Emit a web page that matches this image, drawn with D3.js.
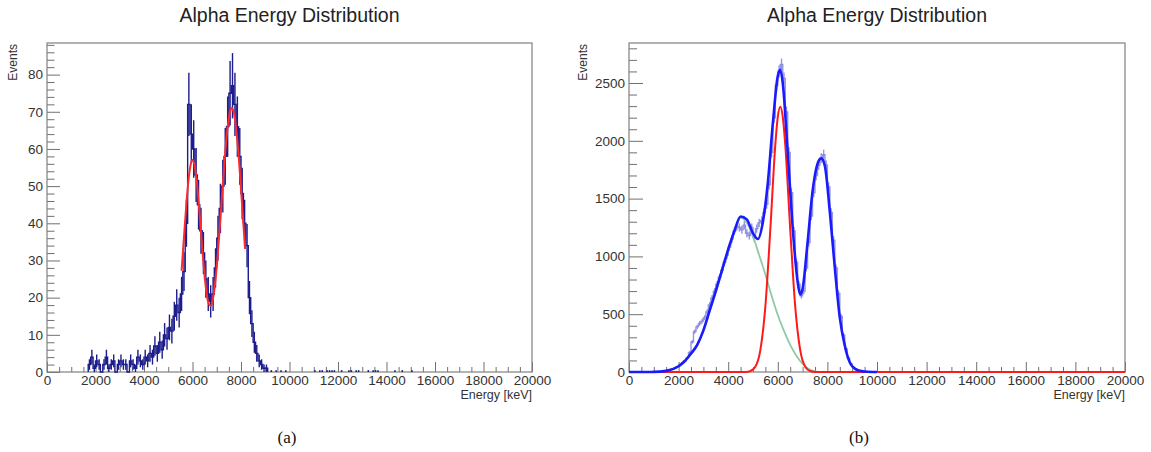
<!DOCTYPE html>
<html>
<head>
<meta charset="utf-8">
<script src="https://cdn.jsdelivr.net/npm/d3@7"></script>
<style>
  body { margin: 0; background: #fff; }
  text { font-family: "Liberation Sans", Arial, Helvetica, sans-serif; fill: #333; }
</style>
</head>
<body>
<div id="chart"></div>
<script>
// ---- data ----
const binWidth = 100; // keV
const xTickLabels = [0, 2000, 4000, 6000, 8000, 10000, 12000, 14000, 16000, 18000, 20000];
const leftYTicks = [0, 10, 20, 30, 40, 50, 60, 70, 80];
const rightYTicks = [0, 500, 1000, 1500, 2000, 2500];

// panel (a): counts per 100 keV bin, first bin starts at 1700 keV
const leftStart = 1700;
const leftCounts = [
  2, 4, 1, 3, 2, 0, 2, 4, 1, 2,
  3, 0, 2, 3, 2, 2, 0, 3, 2, 1,
  4, 3, 2, 4, 3, 5, 4, 7, 5, 8,
  6, 10, 9, 12, 11, 15, 18, 16, 21, 27,
  40, 72, 64, 60, 53, 45, 38, 32, 25, 21,
  19, 21, 28, 36, 44, 50, 58, 66, 75, 77,
  72, 66, 58, 48, 40, 34, 20, 13, 8, 5,
  3, 2, 1, 1
];
// scattered almost-empty bins far right of the peaks
const leftStray = [9200, 9400, 9600, 9800, 11000, 11200, 11300, 11500, 11600, 11700, 11800,
  12100, 12400, 12500, 12700, 12800, 13200, 13400, 13500, 13600, 14300, 14600, 15000];
const leftStrayCount = 0.5;
// double gaussian fit (red)
const leftFit = [
  [5550, 27.2], [5650, 36.4], [5750, 45.4], [5850, 52.5], [5950, 56.5], [6000, 57.1],
  [6050, 56.5], [6150, 52.8], [6250, 46.0], [6350, 37.6], [6450, 29.4], [6550, 22.8],
  [6650, 18.8], [6750, 17.8], [6850, 20.0], [6950, 25.0], [7050, 32.3], [7150, 41.1],
  [7250, 50.5], [7350, 59.1], [7450, 66.0], [7550, 70.1], [7620, 71.0], [7700, 69.9],
  [7800, 65.4], [7900, 58.3], [8000, 49.3], [8100, 39.7], [8170, 33.1]
];

// panel (b): counts per 100 keV bin, first bin starts at 1500 keV
const rightStart = 1500;
const rightCounts = [
  15, 20, 28, 35, 45, 60, 75, 95, 120, 170,
  260, 350, 390, 420, 440, 470, 520, 580, 640, 700,
  760, 820, 880, 950, 1010, 1080, 1150, 1220, 1260, 1250,
  1230, 1270, 1200, 1180, 1250, 1160, 1240, 1290, 1310, 1380,
  1450, 1620, 1900, 2200, 2480, 2600, 2660, 2540, 2250, 1900,
  1550, 1220, 950, 760, 660, 700, 900, 1120, 1350, 1550,
  1700, 1790, 1850, 1880, 1790, 1600, 1380, 1140, 900, 680,
  480, 320, 200, 120, 70, 40, 25, 15, 10, 6,
  4, 2, 1
];
// total fit (blue)
const rightTotal = [
  [0, 0], [500, 0], [1000, 1], [1500, 10], [2000, 50], [2250, 95], [2500, 160], [2750, 235],
  [3000, 360], [3250, 530], [3500, 700], [3750, 880], [4000, 1060], [4250, 1220], [4500, 1345],
  [4750, 1320], [5000, 1200], [5200, 1150], [5400, 1300], [5600, 1640], [5800, 2150],
  [6000, 2560], [6100, 2615], [6200, 2500], [6400, 1900], [6600, 1250], [6800, 780],
  [6900, 670], [7000, 720], [7200, 1120], [7400, 1560], [7600, 1800], [7750, 1848],
  [7900, 1780], [8100, 1380], [8300, 900], [8500, 470], [8700, 230], [8900, 85],
  [9100, 30], [9300, 10], [9500, 4], [10000, 0]
];
// single gaussian component (red)
const rightRed = [
  [0, 0], [4700, 0], [4900, 9], [5100, 48], [5300, 194], [5500, 572], [5700, 1238],
  [5900, 1967], [6000, 2208], [6100, 2295], [6200, 2208], [6300, 1967], [6500, 1238],
  [6700, 572], [6900, 194], [7100, 48], [7300, 9], [7500, 1], [7700, 0], [20000, 0]
];
// broad low-energy component (green)
const rightGreen = [
  [0, 0], [1000, 1], [1500, 9], [2000, 47], [2250, 90], [2500, 152], [2750, 228],
  [3000, 352], [3250, 522], [3500, 692], [3750, 872], [4000, 1052], [4250, 1212],
  [4500, 1335], [4750, 1290], [5000, 1174], [5250, 1010], [5500, 843], [5750, 660],
  [6000, 493], [6250, 355], [6500, 234], [6750, 140], [7000, 70], [7250, 25],
  [7500, 6], [7750, 0], [20000, 0]
];

// ---- drawing ----
const W = 1151, H = 452;
const plotTop = 43, plotBottom = 372;

const svg = d3.select("#chart").append("svg")
  .attr("width", W).attr("height", H)
  .style("background", "#fff");

function toBins(start, counts) {
  return counts.map((c, i) => ({ x0: start + i * binWidth, x1: start + (i + 1) * binWidth, v: c }));
}

function drawPanel(opt) {
  const x = d3.scaleLinear().domain([0, 20000]).range([opt.left, opt.right]);
  const y = d3.scaleLinear().domain([0, opt.yMax]).range([plotBottom, plotTop]);
  const g = svg.append("g");

  const clipId = "clip-" + opt.id;
  svg.append("clipPath").attr("id", clipId)
    .append("rect")
    .attr("x", opt.left).attr("y", plotTop - 2)
    .attr("width", opt.right - opt.left).attr("height", plotBottom - plotTop + 4);

  // title
  g.append("text")
    .attr("x", (opt.left + opt.right) / 2).attr("y", 22)
    .attr("text-anchor", "middle")
    .style("font-size", "19.5px").style("fill", "#222")
    .text("Alpha Energy Distribution");

  // x axis: major + minor ticks pointing inside
  const minorX = d3.range(0, 20001, 500).filter(d => d % 2000 !== 0);
  g.append("g").attr("transform", `translate(0,${plotBottom})`)
    .call(d3.axisBottom(x).tickValues(minorX).tickSizeInner(-5).tickSizeOuter(0).tickFormat(""))
    .call(a => a.select(".domain").remove());
  g.append("g").attr("transform", `translate(0,${plotBottom})`)
    .call(d3.axisBottom(x).tickValues(xTickLabels).tickSizeInner(-10).tickSizeOuter(0).tickPadding(3).tickFormat(d3.format("d")))
    .call(a => a.select(".domain").remove())
    .selectAll("text").style("font-size", "13.5px");

  // y axis
  const minorY = d3.range(0, opt.yMax, opt.yMinor).filter(d => Math.abs(d / opt.yMajor - Math.round(d / opt.yMajor)) > 1e-6);
  g.append("g").attr("transform", `translate(${opt.left},0)`)
    .call(d3.axisLeft(y).tickValues(minorY).tickSizeInner(-opt.yTick / 2 - 1).tickSizeOuter(0).tickFormat(""))
    .call(a => a.select(".domain").remove());
  g.append("g").attr("transform", `translate(${opt.left},0)`)
    .call(d3.axisLeft(y).tickValues(opt.yTicks).tickSizeInner(-opt.yTick).tickSizeOuter(0).tickPadding(4).tickFormat(d3.format("d")))
    .call(a => a.select(".domain").remove())
    .selectAll("text").style("font-size", "13.5px");

  g.selectAll(".tick line").attr("stroke", "#707070");

  // frame
  g.append("rect")
    .attr("x", opt.left).attr("y", plotTop)
    .attr("width", opt.right - opt.left).attr("height", plotBottom - plotTop)
    .attr("fill", "none").attr("stroke", "#808080").attr("stroke-width", 1.2);

  // axis titles
  g.append("text")
    .attr("transform", `translate(${opt.left - opt.titleOffset},${plotTop + 1}) rotate(-90)`)
    .attr("text-anchor", "end").attr("dy", "0.35em")
    .style("font-size", "12px")
    .text("Events");
  g.append("text")
    .attr("x", opt.right).attr("y", 399)
    .attr("text-anchor", "end")
    .style("font-size", "12.5px")
    .text("Energy [keV]");

  const plot = svg.append("g").attr("clip-path", `url(#${clipId})`);
  return { x, y, plot };
}

function drawHist(p, bins, color, width, opacity) {
  const pts = [[bins[0].x0, 0]];
  bins.forEach(b => pts.push([b.x0, b.v]));
  const last = bins[bins.length - 1];
  pts.push([last.x1, last.v]);
  pts.push([last.x1, 0]);
  const line = d3.line().x(d => p.x(d[0])).y(d => p.y(d[1])).curve(d3.curveStepAfter);
  p.plot.append("path").datum(pts)
    .attr("d", line).attr("fill", "none")
    .attr("stroke", color).attr("stroke-width", width).attr("stroke-opacity", opacity);
  // statistical error bars
  p.plot.append("g").selectAll("line").data(bins.filter(b => b.v > 0)).join("line")
    .attr("x1", b => p.x((b.x0 + b.x1) / 2)).attr("x2", b => p.x((b.x0 + b.x1) / 2))
    .attr("y1", b => p.y(b.v - Math.sqrt(b.v))).attr("y2", b => p.y(b.v + Math.sqrt(b.v)))
    .attr("stroke", color).attr("stroke-width", width).attr("stroke-opacity", opacity);
}

function drawCurve(p, pts, color, width, curve) {
  const line = d3.line().x(d => p.x(d[0])).y(d => p.y(d[1])).curve(curve);
  p.plot.append("path").datum(pts)
    .attr("d", line).attr("fill", "none")
    .attr("stroke", color).attr("stroke-width", width)
    .attr("stroke-linejoin", "round");
}

// panel (a)
const pa = drawPanel({ id: "a", left: 47, right: 532, yMax: 88.5, yTicks: leftYTicks, yMajor: 10, yMinor: 2, yTick: 13, titleOffset: 34 });
drawHist(pa, toBins(leftStart, leftCounts), "#1c1c8c", 1.4, 1);
pa.plot.append("g").selectAll("line").data(leftStray).join("line")
  .attr("x1", d => pa.x(d + binWidth / 2)).attr("x2", d => pa.x(d + binWidth / 2))
  .attr("y1", pa.y(0)).attr("y2", pa.y(leftStrayCount))
  .attr("stroke", "#1c1c8c").attr("stroke-width", 1.6);
drawCurve(pa, leftFit, "#ff2a2a", 2, d3.curveCatmullRom);

// panel (b)
const pb = drawPanel({ id: "b", left: 629, right: 1125, yMax: 2846, yTicks: rightYTicks, yMajor: 500, yMinor: 100, yTick: 14, titleOffset: 46 });
drawHist(pb, toBins(rightStart, rightCounts), "#8282dc", 1.4, 0.85);
drawCurve(pb, rightGreen, "#8fcaa4", 1.8, d3.curveMonotoneX);
drawCurve(pb, rightRed, "#ff1a1a", 2, d3.curveMonotoneX);
drawCurve(pb, rightTotal, "#1a1aff", 2.6, d3.curveMonotoneX);

// captions
svg.append("text").attr("x", 287).attr("y", 443).attr("text-anchor", "middle")
  .style("font-family", "'Liberation Serif', 'Times New Roman', serif").style("font-size", "17px").style("fill", "#111")
  .text("(a)");
svg.append("text").attr("x", 859).attr("y", 443).attr("text-anchor", "middle")
  .style("font-family", "'Liberation Serif', 'Times New Roman', serif").style("font-size", "17px").style("fill", "#111")
  .text("(b)");
</script>
</body>
</html>
